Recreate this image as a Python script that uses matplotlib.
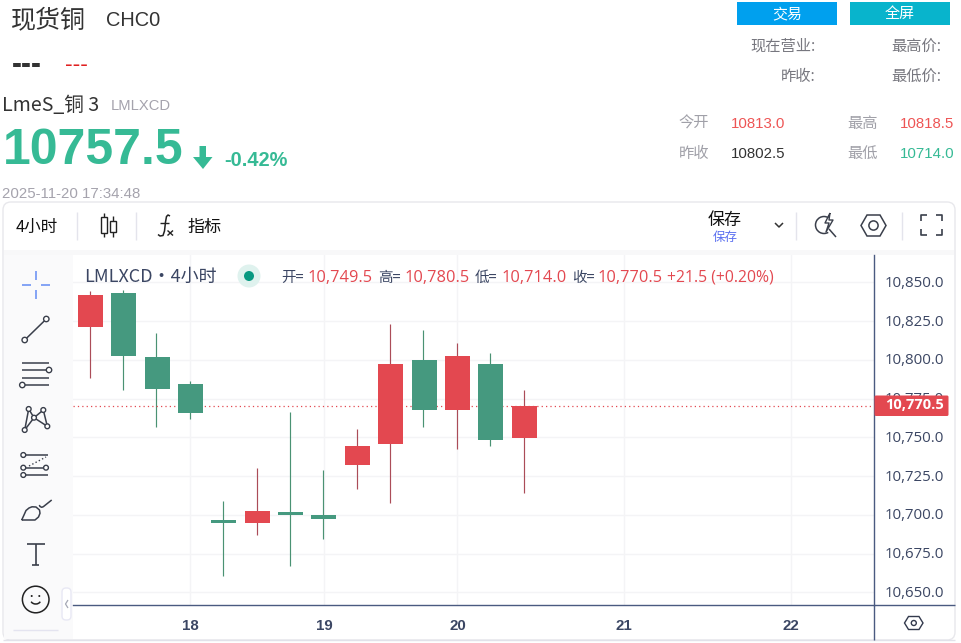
import matplotlib
matplotlib.use("Agg")
import matplotlib.pyplot as plt
from matplotlib.patches import Rectangle, Circle, FancyBboxPatch, Polygon, Arc
from matplotlib.transforms import ScaledTranslation

# ---- data ----
bar_index = list(range(14))
opens  = [10821.2, 10843.0, 10801.8, 10784.4, 10696.6, 10694.7, 10701.8, 10699.9, 10732.1, 10745.7, 10799.9, 10767.6, 10797.3, 10749.5]
closes = [10841.8, 10802.5, 10781.2, 10765.7, 10694.7, 10702.5, 10699.9, 10697.3, 10744.4, 10797.3, 10767.6, 10802.5, 10748.3, 10770.5]
highs  = [10844.4, 10844.8, 10817.3, 10786.3, 10708.9, 10730.2, 10766.3, 10728.9, 10755.4, 10823.1, 10819.2, 10810.8, 10804.4, 10780.5]
lows   = [10788.5, 10780.5, 10756.6, 10761.8, 10660.7, 10687.0, 10667.2, 10684.4, 10716.6, 10707.6, 10756.6, 10742.5, 10744.4, 10714.0]
price_ticks = [10650, 10675, 10700, 10725, 10750, 10775, 10800, 10825, 10850]
day_positions = [3, 7, 11, 16, 21]
day_labels = ["18", "19", "20", "21", "22"]
last_price = 10770.5

W, H = 961, 643
RED, GREEN = "#e34850", "#45997f"
RED_W, GREEN_W = "#ab4c58", "#4a9273"
INK = "#3b4663"
CJK = ["Noto Sans CJK SC", "DejaVu Sans"]
ARIAL = ["Liberation Sans", "Noto Sans CJK SC"]
NUM = ["Open Sans", "Noto Sans CJK SC"]

fig = plt.figure(figsize=(W / 100, H / 100), dpi=100, facecolor="white")

# chrome layer in pixel coordinates
bg = fig.add_axes([0, 0, 1, 1], zorder=0)
bg.set_xlim(0, W); bg.set_ylim(H, 0); bg.axis("off")
# top layer for text and icons
ui = fig.add_axes([0, 0, 1, 1], zorder=5)
ui.set_xlim(0, W); ui.set_ylim(H, 0); ui.axis("off"); ui.patch.set_alpha(0)


def T(x, y, s, px, color="#333333", ha="left", va="baseline", fam=CJK, weight="normal", layer=None):
    (layer or ui).text(x, y, s, fontsize=px / 100 * 72, color=color, ha=ha, va=va,
                       family=fam, fontweight=weight)


def L(xs, ys, color="#3a3f4b", lw=1.1, layer=None, **kw):
    (layer or ui).plot(xs, ys, color=color, lw=lw, solid_capstyle="butt", **kw)


def node(x, y, r=2.7, color="#3a3f4b"):
    ui.add_patch(Circle((x, y), r, fc="white", ec=color, lw=1.0, zorder=6))


# panel
bg.add_patch(FancyBboxPatch((3, 202), 952, 438, boxstyle="round,pad=0,rounding_size=8",
                            fc="white", ec="#e8e8ec", lw=1))
bg.add_patch(Rectangle((4, 250), 950, 5, fc="#f8f8f9", ec="none"))
bg.add_patch(Rectangle((4, 255), 69, 384, fc="#fafafb", ec="none"))
L([3, 955], [640, 640], "#e2e2ea", 1, bg)

# header
T(11, 27, "现货铜", 25)
T(106, 26, "CHC0", 20, fam=ARIAL)
T(12, 73, "---", 30, fam=ARIAL, weight="bold")
T(65, 71, "---", 23, color="#e02020", fam=ARIAL)
T(2, 110.5, "LmeS_铜 3", 19.6)
T(111, 110, "LMLXCD", 14.8, color="#a5a3ad", fam=ARIAL)
T(3, 163.5, "10757.5", 50, color="#36ba95", fam=ARIAL, weight="bold")
ui.add_patch(Polygon([(199.5, 146), (206, 146), (206, 157), (212.5, 157), (203, 169), (193, 157), (199.5, 157)],
                     fc="#36ba95", ec="none"))
T(224, 166, "-0.42%", 20, color="#36ba95", fam=ARIAL, weight="bold")
T(2, 198, "2025-11-20 17:34:48", 15, color="#a5a3ad", fam=ARIAL)

# buttons
ui.add_patch(Rectangle((737, 2), 100, 23, fc="#00a0ee", ec="none"))
ui.add_patch(Rectangle((850, 2), 100, 23, fc="#08b4cc", ec="none"))
T(787, 14, "交易", 15, color="white", ha="center", va="center")
T(900, 14, "全屏", 15, color="white", ha="center", va="center")

for x, y, s in [(816, 46.5, "现在营业:"), (941, 46.5, "最高价:"), (816, 76.5, "昨收:"), (941, 76.5, "最低价:")]:
    T(x, y, s, 15.3, color="#77777f", ha="right", va="center")

for x, y, s in [(678.5, 123.5, "今开"), (847.5, 123.5, "最高"), (678.5, 153.5, "昨收"), (847.5, 153.5, "最低")]:
    T(x, y, s, 15.3, color="#a0a0a8", va="center")
T(731, 127.5, "10813.0", 15, color="#ee5555", fam=ARIAL)
T(900, 127.5, "10818.5", 15, color="#ee5555", fam=ARIAL)
T(731, 157.5, "10802.5", 15, color="#333333", fam=ARIAL)
T(900, 157.5, "10714.0", 15, color="#36ba95", fam=ARIAL)

# toolbar
T(16, 227, "4小时", 16.5, color="#111111", va="center")
for x in [77, 136, 796, 902]:
    L([x, x], [212, 240], "#e4e4ec", 1)
# candle icon
for x, t, b, y0, y1 in [(104, 213, 237, 216.5, 233), (113, 216, 237, 221, 232)]:
    L([x, x], [t, b], "#222222", 1)
    ui.add_patch(Rectangle((x - 3, y0), 6, y1 - y0, fc="white", ec="#222222", lw=1, zorder=6))
# fx icon
L([170, 168, 166.5, 165.5, 164.5, 163, 160, 158], [216, 215, 216.5, 222, 231, 235.5, 236, 234.5], "#222222", 1.1)
L([160, 169], [223, 223], "#222222", 1.0)
L([167.5, 173], [230.5, 235.5], "#222222", 1.0)
L([173, 167.5], [230.5, 235.5], "#222222", 1.0)
T(187, 227, "指标", 17, color="#111111", va="center")
T(725, 220, "保存", 17, color="#111111", ha="center", va="center")
T(725, 238, "保存", 12.5, color="#5a6ff0", ha="center", va="center")
L([775, 779, 783], [223, 227, 223], "#333333", 1.1)
# lightning magnifier
ui.add_patch(Arc((824, 225), 17, 17, theta1=60, theta2=300, ec="#3a3f4b", lw=1.1))
L([829, 836], [229, 237], "#3a3f4b", 1.1)
L([830, 825, 829, 826, 833, 829, 830], [213, 223, 223, 232, 220, 220, 213], "#3a3f4b", 1.0)
# hexagon
ui.add_patch(Polygon([(861, 225.5), (867, 215), (880, 215), (886, 225.5), (880, 236), (867, 236)],
                     fc="white", ec="#3a3f4b", lw=1.1, zorder=6))
ui.add_patch(Circle((873.5, 225.5), 4.6, fc="white", ec="#3a3f4b", lw=1.1, zorder=7))
# fullscreen
for xs, ys in [([921, 921, 927], [221, 215, 215]), ([936, 942, 942], [215, 215, 221]),
               ([921, 921, 927], [229, 235, 235]), ([936, 942, 942], [235, 235, 229])]:
    L(xs, ys, "#3a3f4b", 1.2)

# left tools
CB = "#7a9cf5"
L([36, 36], [271, 280], CB, 1.3); L([36, 36], [290, 299], CB, 1.3)
L([22, 31], [285, 285], CB, 1.3); L([41, 50], [285, 285], CB, 1.3)
L([24.7, 46.3], [340, 319]); node(24.7, 340); node(46.3, 319)
L([21.7, 49.3], [362.7, 362.7]); L([21.7, 47], [370, 370]); L([21.7, 49.3], [377.7, 377.7]); L([24, 49.3], [385, 385])
node(49, 370); node(22.3, 385)
p = [(24.7, 430), (28.7, 409), (34, 417.7), (43.3, 410), (47.3, 426.3)]
L([24.7, 28.7, 34, 24.7], [430, 409, 417.7, 430])
L([34, 47.3, 43.3, 34], [417.7, 426.3, 410, 417.7])
for a, b in p:
    node(a, b, 2.4)
L([23, 48], [455, 455]); L([23, 46], [467.7, 467.7]); L([23, 48], [475, 475])
L([29, 46], [466, 457], lw=1, ls=":")
node(23.3, 455, 2.4); node(23.3, 467.7, 2.4); node(46, 467.7, 2.4); node(23.3, 475, 2.4)
L([21.7, 35, 38.5, 40, 39.5, 36, 32, 29, 26, 24, 21.7], [520, 520, 517, 513.3, 510, 507, 506.8, 508, 510.5, 515, 520])
L([39.3, 40, 41.7, 43.3, 51.7], [505, 506.5, 507.3, 506.7, 500])
L([27, 45], [544, 544], lw=1.2); L([36, 36], [544, 565], lw=1.2); L([32, 39], [565, 565], lw=1.2)
ui.add_patch(Circle((35.7, 599.5), 13.3, fc="none", ec="#222222", lw=1.1))
ui.add_patch(Circle((31.7, 596), 1, fc="#222222", ec="none"))
ui.add_patch(Circle((39.3, 596), 1, fc="#222222", ec="none"))
ui.add_patch(Arc((35.7, 600), 10, 8, theta1=20, theta2=160, ec="#222222", lw=1.1))
L([13, 58], [630, 630], "#e4e4f0", 1)
ui.add_patch(FancyBboxPatch((62, 588), 9, 32, boxstyle="round,pad=0,rounding_size=4",
                            fc="white", ec="#e8e8f4", lw=1, zorder=6))
L([68, 65.5, 68], [600, 604, 608], "#a5a8b5", 0.9, zorder=7)

# ---- price chart ----
ax_l, ax_r, ax_t, ax_b = 73, 874.3, 255, 605.3
ax = fig.add_axes([ax_l / W, 1 - ax_b / H, (ax_r - ax_l) / W, (ax_b - ax_t) / H], zorder=2)
ax.set_xlim(-0.518, 23.49)
ax.set_ylim(10641.6, 10867.6)
ax.set_axisbelow(True)
ax.grid(True, color="#f4f4f6", lw=1.0)
ax.set_xticks(day_positions, day_labels)
ax.set_yticks(price_ticks, [f"{v:,.1f}" for v in price_ticks])
ax.yaxis.tick_right()
ax.tick_params(length=0)
ax.tick_params(axis="y", pad=7.5, labelsize=15 / 100 * 72, labelcolor=INK)
ax.tick_params(axis="x", pad=10, labelsize=15 / 100 * 72, labelcolor=INK)
lift = ScaledTranslation(0, 1 / 100, fig.dpi_scale_trans)
for lab in ax.get_yticklabels():
    lab.set_family(NUM)
    lab.set_transform(lab.get_transform() + lift)
for lab in ax.get_xticklabels():
    lab.set_family(["Liberation Sans"]); lab.set_fontweight("bold")
for side in ["left", "top"]:
    ax.spines[side].set_visible(False)
for side in ["right", "bottom"]:
    ax.spines[side].set_color("#4a5a80"); ax.spines[side].set_linewidth(1.0)

nudge = ax.transData + ScaledTranslation(-0.6 / 100, 0, fig.dpi_scale_trans)
for i, o, c, h, l in zip(bar_index, opens, closes, highs, lows):
    up = c >= o
    ax.vlines(i, l, h, color=RED_W if up else GREEN_W, lw=0.85, zorder=3, transform=nudge)
    ax.bar(i, abs(c - o), bottom=min(o, c), width=0.75, color=RED if up else GREEN, lw=0, zorder=4)
ax.axhline(last_price, color=RED, lw=0.9, ls=(0, (1, 2.5)), zorder=3.5)

# axis extensions and last-price tag
L([874.3, 874.3], [605, 640], "#4a5a80", 1, bg)
L([874, 955], [605.3, 605.3], "#4a5a80", 1, bg)
ui.add_patch(FancyBboxPatch((874.5, 395.5), 74, 20.5, boxstyle="round,pad=0,rounding_size=1.5",
                            fc=RED, ec="none", zorder=6))
ui.text(885, 405, f"{last_price:,.1f}", fontsize=14.6 / 100 * 72, color="white", family=NUM,
        fontweight="bold", va="center", zorder=7)
ui.add_patch(Polygon([(904.5, 623), (908.5, 616.5), (919, 616.5), (923, 623), (919, 629.5), (908.5, 629.5)],
                     fc="white", ec="#333a4d", lw=1, zorder=6))
ui.add_patch(Circle((913.8, 623), 2.5, fc="white", ec="#333a4d", lw=1, zorder=7))

# legend
T(84, 282, "LMLXCD・4小时", 18, color=INK)
ui.add_patch(Circle((249, 276), 11.5, fc="#dff2ee", ec="none"))
ui.add_patch(Circle((249, 276), 5, fc="#089981", ec="none"))
for x, s in [(281, "开="), (378, "高="), (475, "低="), (572, "收=")]:
    T(x, 282, s, 14.5, color=INK)
for x, s in [(307, "10,749.5"), (404, "10,780.5"), (501, "10,714.0"), (597, "10,770.5")]:
    T(x, 282, s, 16.4, color=RED, fam=NUM)
T(667, 282, "+21.5 (+0.20%)", 15.7, color=RED, fam=NUM)

fig.savefig("out.png", dpi=100)
